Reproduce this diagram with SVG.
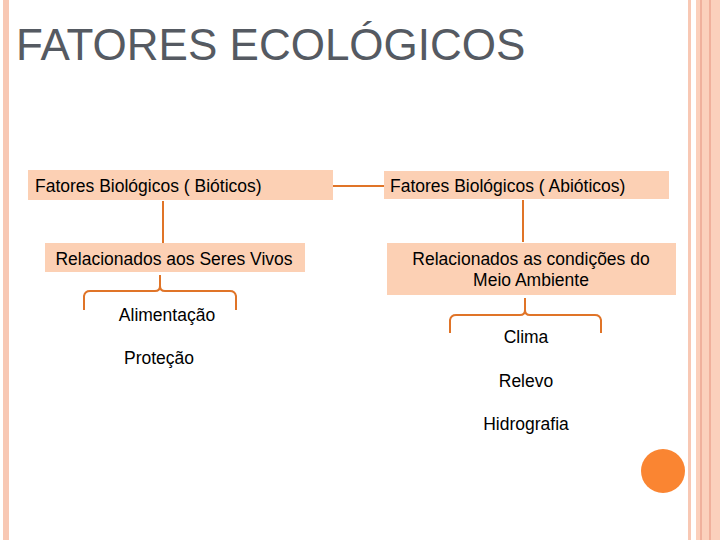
<svg xmlns="http://www.w3.org/2000/svg" width="720" height="540" viewBox="0 0 720 540">
<style>
.box{fill:#fcd0b4}
.t{font-family:"Liberation Sans",Arial,sans-serif;font-size:17.5px;fill:#000}
.c{fill:none;stroke:#e07428;stroke-width:2}
</style>
<rect width="720" height="540" fill="#fff"/>
<rect x="3" y="0" width="6" height="540" fill="#f8c8b4"/>
<rect x="688" y="0" width="3" height="540" fill="#f8c8b4"/>
<rect x="696" y="0" width="24" height="540" fill="#fbd0bc"/>
<rect x="700" y="0" width="2" height="540" fill="#f0b09c"/>
<rect x="709" y="0" width="2" height="540" fill="#f0b09c"/>
<text x="16" y="60" font-family="'Liberation Sans',Arial,sans-serif" font-size="44" fill="#555a62">FATORES ECOLÓGICOS</text>
<g id="connectors">
<path class="c" d="M333 186H386"/>
<path class="c" d="M163 201V243"/>
<path class="c" d="M523 200V242"/>
<path class="c" d="M84 310V296Q85 291 90 291H155Q160 291 160 286V275M160 286Q160 291 165 291H230Q235 291 236 296V310"/>
<path class="c" d="M450 333V320Q451 315 456 315H520Q525 315 525 310V298M525 310Q525 315 530 315H595Q600 315 601 320V333"/>
</g>
<g id="n1"><rect class="box" x="28" y="170" width="305" height="30"/><text class="t" x="35" y="192">Fatores Biológicos ( Bióticos)</text></g>
<g id="n2"><rect class="box" x="384" y="171" width="285" height="28"/><text class="t" x="390" y="192">Fatores Biológicos ( Abióticos)</text></g>
<g id="n3"><rect class="box" x="45" y="243" width="260" height="29"/><text class="t" x="174" y="265" text-anchor="middle">Relacionados aos Seres Vivos</text></g>
<g id="n4"><rect class="box" x="387" y="243" width="289" height="52"/><text class="t" x="531" y="265" text-anchor="middle">Relacionados as condições do</text><text class="t" x="531" y="286" text-anchor="middle">Meio Ambiente</text></g>
<g id="n5"><text class="t" x="167" y="321" text-anchor="middle">Alimentação</text></g>
<g id="n6"><text class="t" x="159" y="364" text-anchor="middle">Proteção</text></g>
<g id="n7"><text class="t" x="526" y="343" text-anchor="middle">Clima</text></g>
<g id="n8"><text class="t" x="526" y="387" text-anchor="middle">Relevo</text></g>
<g id="n9"><text class="t" x="526" y="430" text-anchor="middle">Hidrografia</text></g>
<circle cx="663" cy="471" r="22" fill="#fa8532"/>
</svg>
